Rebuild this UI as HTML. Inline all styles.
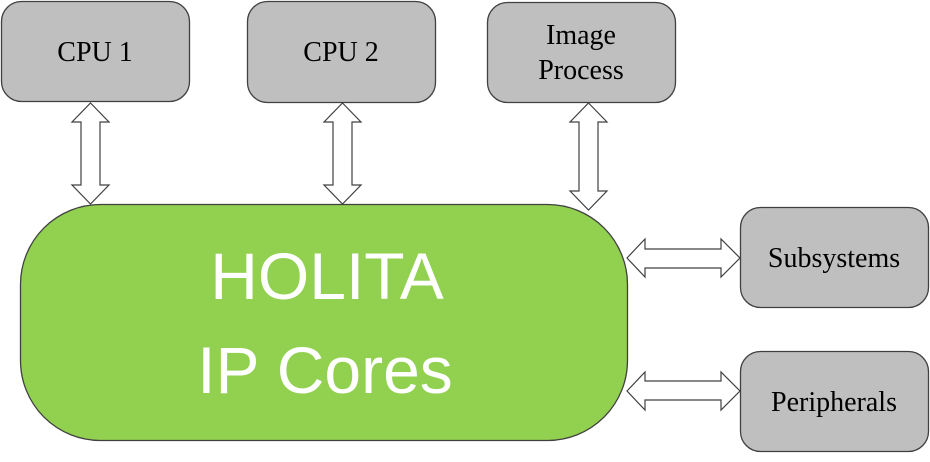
<!DOCTYPE html>
<html><head><style>
body{margin:0;background:#fff;width:930px;height:457px;overflow:hidden}
</style></head><body>
<svg width="930" height="457" viewBox="0 0 930 457" xmlns="http://www.w3.org/2000/svg">
<g fill="#bfbfbf" stroke="#404040" stroke-width="1.3">
<rect x="1.5" y="1.5" width="188" height="100" rx="20"/>
<rect x="247.5" y="1.5" width="188" height="101" rx="20"/>
<rect x="487.5" y="2.5" width="188" height="100" rx="20"/>
<rect x="740.5" y="207.5" width="188" height="100" rx="20"/>
<rect x="740.5" y="351.5" width="188" height="100" rx="20"/>
</g>
<rect x="20.5" y="204.5" width="607" height="236" rx="80" fill="#92d050" stroke="#404040" stroke-width="1.3"/>
<g fill="#fff" stroke="#404040" stroke-width="1.2">
<path d="M90.5 103 L109 122 L100 122 L100 185 L109 185 L90.5 204 L72 185 L81 185 L81 122 L72 122 Z"/>
<path d="M342.5 103 L361 122 L352 122 L352 185 L361 185 L342.5 204 L324 185 L333 185 L333 122 L324 122 Z"/>
<path d="M588.5 103 L607 122 L598 122 L598 191 L607 191 L588.5 210 L570 191 L579 191 L579 122 L570 122 Z"/>
<path d="M627 258 L645 239 L645 249 L721 249 L721 239 L740 258 L721 277 L721 268 L645 268 L645 277 Z"/>
<path d="M627 391 L645 372 L645 381 L721 381 L721 372 L740 391 L721 410 L721 400 L645 400 L645 410 Z"/>
</g>
<g font-family="Liberation Serif, serif" font-size="28" fill="#000" text-anchor="middle">
<text x="95" y="61">CPU 1</text>
<text x="341" y="61">CPU 2</text>
<text x="581" y="44">Image</text>
<text x="581" y="79">Process</text>
<text x="834" y="267">Subsystems</text>
<text x="834" y="411">Peripherals</text>
</g>
<g font-family="Liberation Sans, sans-serif" font-size="66" fill="#fff" text-anchor="middle">
<text x="327" y="299">HOLITA</text>
<text x="325" y="393">IP Cores</text>
</g>
</svg>
</body></html>
